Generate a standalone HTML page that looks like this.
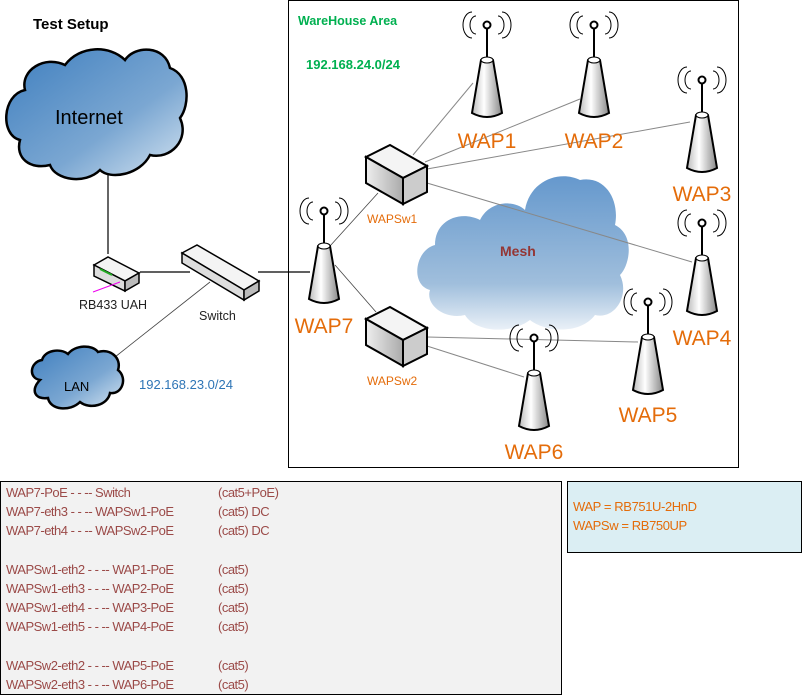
<!DOCTYPE html>
<html><head><meta charset="utf-8"><style>
body{margin:0;background:#fff;width:802px;height:697px;overflow:hidden;position:relative;font-family:"Liberation Sans",sans-serif}
svg{position:absolute;left:0;top:0}
.lst{position:absolute;left:0;top:481px;width:562px;height:214px;background:#f2f2f2;border:1px solid #000;box-sizing:border-box}
.lst div{position:absolute;left:5px;font-size:13px;color:#9b4a48;letter-spacing:-0.5px;white-space:pre;font-family:"Liberation Sans",sans-serif}
.lst span{position:absolute;left:212px}
.key{position:absolute;left:567px;top:481px;width:235px;height:72px;background:#dbeef3;border:1px solid #000;box-sizing:border-box}
.key div{position:absolute;left:5px;font-size:13px;color:#e46c0a;letter-spacing:-0.4px;font-family:"Liberation Sans",sans-serif}
</style></head><body>
<svg width="802" height="697" viewBox="0 0 802 697">
<defs>
<linearGradient id="cg" x1="0" y1="0" x2="1" y2="1"><stop offset="0" stop-color="#3f7fbf"/><stop offset="0.6" stop-color="#7ba7d2"/><stop offset="1" stop-color="#d8e6f2"/></linearGradient>
<linearGradient id="mg" x1="0" y1="0" x2="0" y2="1"><stop offset="0" stop-color="#4a86c4"/><stop offset="0.7" stop-color="#8fb3d6"/><stop offset="1" stop-color="#e6eef6"/></linearGradient>
<linearGradient id="wg" x1="0" y1="0" x2="1" y2="0"><stop offset="0" stop-color="#bbb"/><stop offset="0.4" stop-color="#fff"/><stop offset="1" stop-color="#888"/></linearGradient>
<linearGradient id="bg" x1="0" y1="0" x2="1" y2="0"><stop offset="0" stop-color="#eee"/><stop offset="1" stop-color="#aaa"/></linearGradient>
<g id="wap">
<path d="M-11,-9 A 6 9 0 0 0 -11,9 M-15,-13 A 9 13 0 0 0 -15,13 M11,-9 A 6 9 0 0 1 11,9 M15,-13 A 9 13 0 0 1 15,13" fill="none" stroke="#000" stroke-width="1"/>
<circle cx="0" cy="0" r="3.5" fill="#fff" stroke="#000" stroke-width="2"/>
<line x1="0" y1="4" x2="0" y2="35" stroke="#000" stroke-width="2"/>
<path d="M-6,35 L-15,88 Q0,96 15,88 L6,35 Q0,31 -6,35 Z" fill="url(#wg)" stroke="#000" stroke-width="2"/>
<ellipse cx="0" cy="35" rx="6" ry="3" fill="#fff" stroke="#000" stroke-width="1"/>
</g>
<g id="box">
<path d="M0,12 L24,0 L61,21 L37,33 Z" fill="#f4f4f4" stroke="#000" stroke-width="2"/>
<path d="M0,12 L37,33 L37,59 L0,38 Z" fill="url(#bg)" stroke="#000" stroke-width="2"/>
<path d="M37,33 L61,21 L61,47 L37,59 Z" fill="#ccc" stroke="#000" stroke-width="2"/>
</g>
</defs>
<rect x="288.5" y="0.5" width="450" height="467" fill="none" stroke="#000"/>
<g stroke="#000" stroke-width="1.2" fill="none">
<line x1="108" y1="175" x2="108" y2="254"/>
<line x1="140" y1="272" x2="190" y2="272"/>
<line x1="258" y1="272" x2="310" y2="272"/>
</g>
<g stroke="#444" stroke-width="0.8">
<line x1="210" y1="282" x2="115" y2="357"/>
<line x1="330" y1="246" x2="378" y2="193"/>
<line x1="335" y1="265" x2="376" y2="312"/>
</g>
<path d="M20,140 C0,135 2,95 25,90 C20,70 45,55 65,65 C80,45 110,45 125,60 C135,45 165,45 170,68 C190,75 190,105 180,118 C190,140 170,160 150,155 C140,175 110,180 100,170 C85,185 55,180 50,165 C30,170 15,158 20,140 Z" fill="url(#cg)" stroke="#000" stroke-width="2.5"/>
<path d="M40,380 C28,378 30,362 42,360 C45,350 60,348 68,354 C75,345 92,344 98,352 C110,348 122,358 118,370 C128,378 122,395 110,393 C108,405 90,410 80,402 C70,412 50,410 48,398 C35,400 30,390 40,380 Z" fill="url(#cg)" stroke="#000" stroke-width="2.5"/>
<path d="M430,290 C410,285 415,250 435,245 C435,220 460,210 480,220 C490,200 515,200 525,210 C530,180 560,170 580,180 C605,175 620,200 615,225 C635,235 630,265 620,275 C630,295 615,320 595,315 C580,335 545,332 530,320 C510,335 475,332 465,315 C445,320 425,305 430,290 Z" fill="url(#mg)" opacity="0.85"/>
<g stroke="#888" stroke-width="1">
<line x1="413" y1="155" x2="473" y2="83"/>
<line x1="425" y1="162" x2="580" y2="99"/>
<line x1="427" y1="169" x2="690" y2="122"/>
<line x1="427" y1="183" x2="692" y2="262"/>
<line x1="427" y1="337" x2="638" y2="342"/>
<line x1="427" y1="346" x2="524" y2="377"/>
</g>
<g stroke="#000" stroke-width="1.5">
<path d="M94,265 L108,257 L139,273 L125,281 Z" fill="#f4f4f4"/>
<path d="M94,265 L125,281 L125,291 L94,276 Z" fill="#ddd"/>
<path d="M125,281 L139,273 L139,283 L125,291 Z" fill="#bbb"/>
</g>
<line x1="100" y1="269" x2="112" y2="275" stroke="#2a2" stroke-width="2"/>
<line x1="93" y1="292" x2="120" y2="282" stroke="#e0e" stroke-width="1"/>
<g stroke="#000" stroke-width="1.5">
<path d="M182,253 L197,245 L259,281 L244,290 Z" fill="#f4f4f4"/>
<path d="M182,253 L244,290 L244,300 L182,263 Z" fill="#ddd"/>
<path d="M244,290 L259,281 L259,291 L244,300 Z" fill="#bbb"/>
</g>
<use href="#box" x="366" y="145"/>
<use href="#box" x="366" y="307"/>
<use href="#wap" x="324" y="211"/>
<use href="#wap" x="487" y="25"/>
<use href="#wap" x="594" y="25"/>
<use href="#wap" x="702" y="80"/>
<use href="#wap" x="702" y="223"/>
<use href="#wap" x="648" y="302"/>
<use href="#wap" x="534" y="338"/>
<g font-family="Liberation Sans, sans-serif">
<text x="33" y="29" font-size="15" font-weight="bold">Test Setup</text>
<text x="55" y="124" font-size="20">Internet</text>
<text x="64" y="391" font-size="13">LAN</text>
<text x="79" y="309" font-size="12.5" fill="#222">RB433 UAH</text>
<text x="199" y="320" font-size="12.5" fill="#222">Switch</text>
<text x="139" y="389" font-size="13" fill="#2e75b6">192.168.23.0/24</text>
<text x="298" y="25" font-size="12.5" font-weight="bold" fill="#00b050">WareHouse Area</text>
<text x="306" y="69" font-size="13" font-weight="bold" fill="#00b050">192.168.24.0/24</text>
<text x="500" y="256" font-size="14" font-weight="bold" fill="#943634">Mesh</text>
<g fill="#e46c0a" font-size="21">
<text x="487" y="148" text-anchor="middle">WAP1</text>
<text x="594" y="148" text-anchor="middle">WAP2</text>
<text x="702" y="201" text-anchor="middle">WAP3</text>
<text x="702" y="345" text-anchor="middle">WAP4</text>
<text x="648" y="422" text-anchor="middle">WAP5</text>
<text x="534" y="459" text-anchor="middle">WAP6</text>
<text x="324" y="333" text-anchor="middle">WAP7</text>
</g>
<text x="367" y="223" font-size="12" fill="#e46c0a">WAPSw1</text>
<text x="367" y="385" font-size="12" fill="#e46c0a">WAPSw2</text>
</g>
</svg>
<div class="lst">
<div style="top:3px">WAP7-PoE - - -- Switch<span>(cat5+PoE)</span></div>
<div style="top:22px">WAP7-eth3 - - -- WAPSw1-PoE<span>(cat5) DC</span></div>
<div style="top:41px">WAP7-eth4 - - -- WAPSw2-PoE<span>(cat5) DC</span></div>
<div style="top:80px">WAPSw1-eth2 - - -- WAP1-PoE<span>(cat5)</span></div>
<div style="top:99px">WAPSw1-eth3 - - -- WAP2-PoE<span>(cat5)</span></div>
<div style="top:118px">WAPSw1-eth4 - - -- WAP3-PoE<span>(cat5)</span></div>
<div style="top:137px">WAPSw1-eth5 - - -- WAP4-PoE<span>(cat5)</span></div>
<div style="top:176px">WAPSw2-eth2 - - -- WAP5-PoE<span>(cat5)</span></div>
<div style="top:195px">WAPSw2-eth3 - - -- WAP6-PoE<span>(cat5)</span></div>
</div>
<div class="key">
<div style="top:17px">WAP = RB751U-2HnD</div>
<div style="top:36px">WAPSw = RB750UP</div>
</div>
</body></html>
